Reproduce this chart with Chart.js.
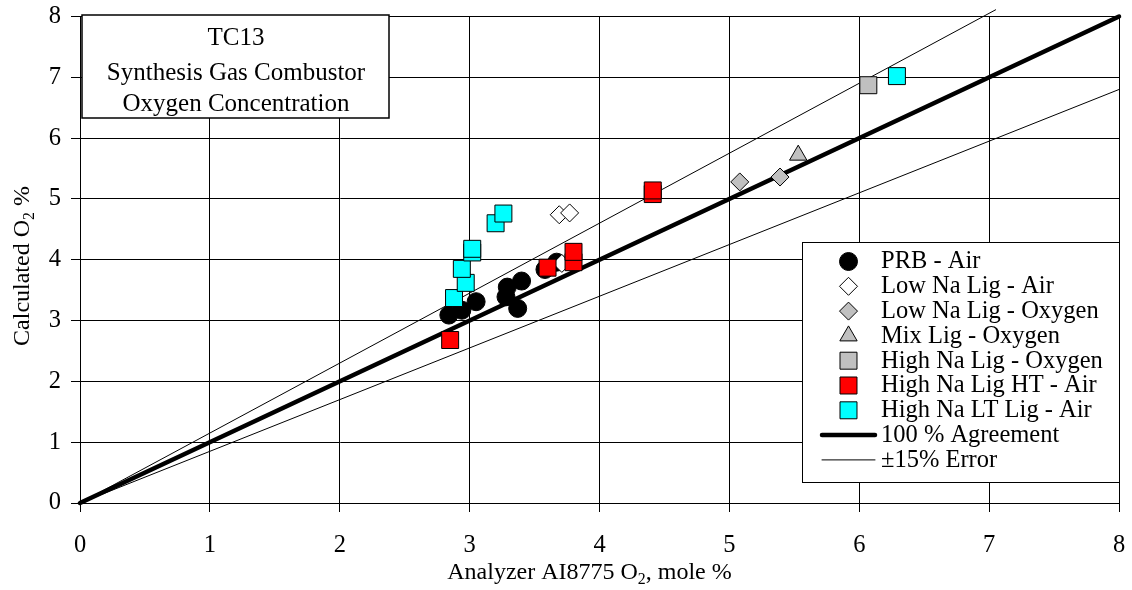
<!DOCTYPE html>
<html>
<head>
<meta charset="utf-8">
<script src="https://cdn.jsdelivr.net/npm/chart.js@4.4.1/dist/chart.umd.min.js"></script>
<style>
  html, body { margin: 0; padding: 0; background: #fff; }
  #wrap { width: 1132px; height: 590px; }
</style>
</head>
<body>
<div id="wrap"><canvas id="chart" width="1132" height="590"></canvas></div>
<script>
// analyzer O2 (x) vs calculated O2 (y), mole %
const prbAir = [[2.84, 3.09], [2.94, 3.17], [3.05, 3.31], [3.28, 3.39], [3.29, 3.55],
  [3.37, 3.20], [3.40, 3.65], [3.58, 3.84], [3.67, 3.96]];
const lowNaAir = [[3.69, 4.74], [3.77, 4.77], [3.71, 3.94]];
const lowNaOxygen = [[5.08, 5.28], [5.39, 5.36]];
const mixOxygen = [[5.53, 5.72]];
const highNaOxygen = [[6.07, 6.87]];
const highNaHtAir = [[2.85, 2.68], [3.60, 3.87], [3.80, 3.96], [3.80, 4.13], [4.41, 5.08], [4.41, 5.14]];
const highNaLtAir = [[2.88, 3.37], [2.97, 3.62], [2.94, 3.85], [3.02, 4.12], [3.02, 4.18],
  [3.20, 4.60], [3.26, 4.76], [6.29, 7.02]];
const agreement = [[0, 0], [8, 8]];
const errorUpper = [[0, 0], [7.05, 8.11]];
const errorLower = [[0, 0], [8, 6.8]];
const axisTicks = [0, 1, 2, 3, 4, 5, 6, 7, 8];
const titleLines = ['TC13', 'Synthesis Gas Combustor', 'Oxygen Concentration'];

const SERIF = "'Liberation Serif', 'Times New Roman', serif";
const toXY = arr => arr.map(p => ({ x: p[0], y: p[1] }));

function markerSet(label, data, style, fill, radius, order) {
  return {
    label, data: toXY(data), pointStyle: style, backgroundColor: fill, borderColor: '#000',
    borderWidth: 1, pointRadius: radius, pointHoverRadius: radius, order,
  };
}

function lineSet(label, data, width, order) {
  return {
    label, data: toXY(data), showLine: true, borderColor: '#000', borderWidth: width,
    pointRadius: 0, borderCapStyle: 'round', clip: false, order,
  };
}

const datasets = [
  markerSet('PRB - Air', prbAir, 'circle', '#000', 9, 7),
  markerSet('Low Na Lig - Air', lowNaAir, 'rectRot', '#fff', 9, 6),
  markerSet('Low Na Lig - Oxygen', lowNaOxygen, 'rectRot', '#c0c0c0', 9, 5),
  markerSet('Mix Lig - Oxygen', mixOxygen, 'triangle', '#c0c0c0', 10, 4),
  markerSet('High Na Lig - Oxygen', highNaOxygen, 'rect', '#c0c0c0', 12, 3),
  markerSet('High Na Lig HT - Air', highNaHtAir, 'rect', '#ff0000', 12, 2),
  markerSet('High Na LT Lig - Air', highNaLtAir, 'rect', '#00ffff', 12, 1),
  lineSet('100 % Agreement', agreement, 4.5, 10),
  lineSet('\u00b115% Error', errorUpper, 1, 11),
  lineSet('', errorLower, 1, 12),
];

// draws text with a subscript part: parts = [[text, isSub], ...]
function subText(ctx, parts, x, y, size) {
  let cx = x;
  parts.forEach(([t, sub]) => {
    ctx.font = (sub ? size * 0.66 : size) + 'px ' + SERIF;
    ctx.fillText(t, cx, sub ? y + size * 0.22 : y);
    cx += ctx.measureText(t).width;
  });
  return cx - x;
}
function subWidth(ctx, parts, size) {
  let w = 0;
  parts.forEach(([t, sub]) => {
    ctx.font = (sub ? size * 0.66 : size) + 'px ' + SERIF;
    w += ctx.measureText(t).width;
  });
  return w;
}

const overlay = {
  id: 'overlay',
  afterDraw(chart) {
    const ctx = chart.ctx;
    const area = chart.chartArea;
    ctx.save();
    ctx.fillStyle = '#000';
    ctx.textBaseline = 'alphabetic';

    // axis titles
    const xt = [['Analyzer AI8775 O', false], ['2', true], [', mole %', false]];
    const xw = subWidth(ctx, xt, 24);
    subText(ctx, xt, (area.left + area.right) / 2 - 10 - xw / 2, 578.5, 24);

    const yt = [['Calculated O', false], ['2', true], [' %', false]];
    const yw = subWidth(ctx, yt, 24);
    ctx.save();
    ctx.translate(29, 266);
    ctx.rotate(-Math.PI / 2);
    subText(ctx, yt, -yw / 2, 0, 24);
    ctx.restore();

    // title box
    ctx.fillStyle = '#fff';
    ctx.fillRect(82, 15, 307, 103);
    ctx.strokeStyle = '#000';
    ctx.lineWidth = 1.5;
    ctx.strokeRect(82, 15, 307, 103);
    ctx.fillStyle = '#000';
    ctx.font = '25px ' + SERIF;
    ctx.textAlign = 'center';
    [45, 79.5, 111].forEach((by, i) => ctx.fillText(titleLines[i], 236, by));

    // legend box
    ctx.textAlign = 'left';
    ctx.fillStyle = '#fff';
    ctx.fillRect(802.5, 242.5, 317, 240);
    ctx.lineWidth = 1;
    ctx.strokeRect(802.5, 242.5, 317, 240);
    ctx.font = '24.5px ' + SERIF;
    ctx.textBaseline = 'middle';
    const rows = [0, 1, 2, 3, 4, 5, 6, 7, 8];
    rows.forEach(i => {
      const ds = chart.data.datasets[i];
      const cy = 261.5 + i * 24.8;
      if (i < 7) {
        ctx.fillStyle = ds.backgroundColor;
        ctx.strokeStyle = '#000';
        ctx.lineWidth = 1;
        Chart.helpers.drawPoint(ctx, {
          pointStyle: ds.pointStyle, radius: ds.pointRadius, rotation: 0, borderWidth: 1,
        }, 848.5, cy);
      } else {
        ctx.strokeStyle = '#000';
        ctx.lineWidth = ds.borderWidth;
        ctx.lineCap = 'round';
        ctx.beginPath();
        ctx.moveTo(822, cy);
        ctx.lineTo(875, cy);
        ctx.stroke();
      }
      ctx.fillStyle = '#000';
      ctx.fillText(ds.label, 881, cy + 0.5);
    });
    ctx.restore();
  },
};

const tickFont = { family: SERIF, size: 24.5 };
const gridOpts = { color: '#000', lineWidth: 1, tickLength: 9, tickColor: '#000' };
// fixed axis sizes, no extra room for overflowing edge labels
const noPad = s => { s.paddingLeft = 0; s.paddingRight = 0; s.paddingTop = 0; s.paddingBottom = 0; };

new Chart(document.getElementById('chart'), {
  type: 'scatter',
  data: { datasets },
  options: {
    responsive: false,
    animation: false,
    events: [],
    layout: { padding: { top: 16.5, right: 13, left: 0, bottom: 0 } },
    scales: {
      x: {
        type: 'linear', min: 0, max: 8,
        afterBuildTicks: s => { s.ticks = axisTicks.map(v => ({ value: v })); },
        afterFit: s => { s.height = 87; noPad(s); },
        ticks: { font: tickFont, color: '#000', padding: 19, maxRotation: 0 },
        grid: gridOpts,
        border: { color: '#000', width: 1 },
      },
      y: {
        type: 'linear', min: 0, max: 8,
        afterBuildTicks: s => { s.ticks = axisTicks.map(v => ({ value: v })); },
        afterFit: s => { s.width = 80; noPad(s); },
        ticks: { font: tickFont, color: '#000', padding: 10 },
        grid: gridOpts,
        border: { color: '#000', width: 1 },
      },
    },
    plugins: {
      legend: { display: false },
      tooltip: { enabled: false },
    },
  },
  plugins: [overlay],
});
</script>
</body>
</html>
